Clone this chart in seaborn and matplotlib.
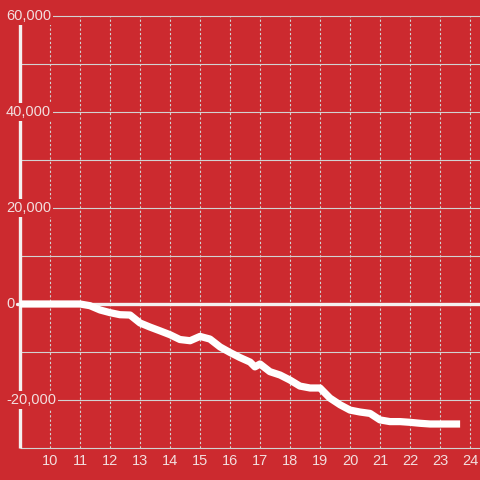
import numpy as np
import pandas as pd
import matplotlib
matplotlib.use('Agg')
import matplotlib.pyplot as plt
import seaborn as sns

# hour of day vs cumulative value
hours = [9.0, 11.0, 11.33, 11.67, 12.0, 12.33, 12.67, 13.0, 13.33, 13.67,
         14.0, 14.33, 14.67, 15.0, 15.33, 15.67, 16.0, 16.33, 16.67, 16.83,
         17.0, 17.33, 17.67, 18.0, 18.33, 18.67, 19.0, 19.33, 19.67, 20.0,
         20.33, 20.67, 21.0, 21.33, 21.67, 22.0, 22.33, 22.67, 23.0, 23.33, 23.67]
values = [0, 0, -350, -1250, -1800, -2230, -2300, -3950, -4800, -5600,
          -6400, -7400, -7650, -6750, -7300, -8950, -10100, -11150, -12100, -13100,
          -12500, -14100, -14800, -15850, -17100, -17500, -17500, -19600, -21000, -22100,
          -22500, -22800, -24150, -24500, -24500, -24650, -24850, -25000, -25000, -25000, -25000]

x_ticks = list(range(10, 25))
y_ticks = [60000, 40000, 20000, 0, -20000]
y_grid = list(range(-30000, 60001, 10000))

bg = '#cc2a2f'
txt = '#f2dede'
grid = '#d2d2d2'

sns.set_theme(style='white', rc={'axes.facecolor': bg, 'figure.facecolor': bg})
plt.rcParams['font.family'] = ['Liberation Sans', 'DejaVu Sans']

fig = plt.figure(figsize=(4.8, 4.8), dpi=100)
ax = fig.add_axes([0, 0, 1, 1])
ax.set_xlim(8.333, 24.333)
ax.set_ylim(-36667, 63333)
for s in ax.spines.values():
    s.set_visible(False)
ax.set_xticks([])
ax.set_yticks([])

# grid
ax.hlines(y_grid, 9, 24.4, color=grid, lw=0.8, zorder=1)
ax.vlines(x_ticks, -30000, 60000, color=grid, lw=0.8, linestyles=(0, (2, 2)), zorder=1)
# zero line and y axis
ax.axhline(0, xmin=(8.9 - 8.333) / 16, color='#f4f0f0', lw=2.4, zorder=2)
ax.vlines([9], -30000, 60000, color='#f4f0f0', lw=2.4, zorder=2)

df = pd.DataFrame({'hour': hours, 'value': values})
sns.lineplot(data=df, x='hour', y='value', ax=ax, color='white', lw=5.2,
             zorder=3, solid_capstyle='butt', solid_joinstyle='round')
ax.set_xlabel('')
ax.set_ylabel('')

for v in y_ticks:
    ax.text(8.53, v, f'{v:,}', color=txt, fontsize=10.5, ha='left', va='center',
            zorder=4, bbox=dict(boxstyle='square,pad=0.15', fc=bg, ec='none'))
for h in x_ticks:
    ax.text(h, -32800, str(h), color=txt, fontsize=10.5, ha='center', va='center', zorder=4)

fig.savefig('out.png', dpi=100, facecolor=bg)
